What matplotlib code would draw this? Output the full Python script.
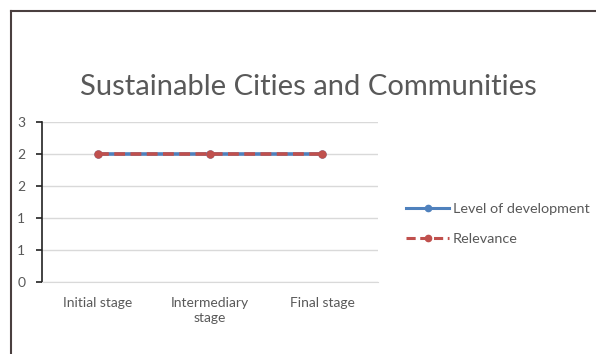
import matplotlib.pyplot as plt
from matplotlib.lines import Line2D
import math

plt.rcParams['font.family'] = ['Lato', 'DejaVu Sans']

# Chart data
stages = ["Initial stage", "Intermediary\nstage", "Final stage"]
levelOfDevelopment = [2, 2, 2]
relevance = [2, 2, 2]
yTicks = [0, 0.5, 1, 1.5, 2, 2.5]

W, H = 596, 354
fig = plt.figure(figsize=(W / 100, H / 100), dpi=100)

# Outer frame (left and top edges visible in the reference)
frameColor = '#4a3f3f'
fig.add_artist(Line2D([11 / W, 11 / W], [0, 1 - 11 / H], color=frameColor, lw=1.5))
fig.add_artist(Line2D([11 / W, 1], [1 - 11 / H, 1 - 11 / H], color=frameColor, lw=1.5))

ax = fig.add_axes([42 / W, 1 - 282 / H, 336 / W, 160 / H])
xPos = list(range(len(stages)))

ax.plot(xPos, levelOfDevelopment, color='#4f81bd', lw=2.6, marker='o', ms=5,
        label='Level of development', zorder=3)
ax.plot(xPos, relevance, color='#c0504d', lw=2.6, ls=(0, (3, 1.5)), marker='o', ms=5,
        label='Relevance', zorder=4)

ax.set_xlim(-0.5, len(stages) - 0.5)
ax.set_ylim(0, 2.5)
ax.set_yticks(yTicks)
# Excel-style integer format rounds halves up
ax.set_yticklabels([str(int(math.floor(v + 0.5))) for v in yTicks])
ax.set_xticks(xPos)
ax.set_xticklabels(stages, linespacing=1.25)
ax.grid(axis='y', color='#d9d9d9', lw=1)
ax.set_axisbelow(True)

for side in ['top', 'right']:
    ax.spines[side].set_visible(False)
ax.spines['bottom'].set_color('#d9d9d9')
ax.spines['left'].set_color('#222222')
ax.spines['left'].set_linewidth(1.2)
ax.tick_params(axis='y', length=4, width=1.2, color='#222222', labelsize=10,
               labelcolor='#595959', pad=8)
ax.tick_params(axis='x', length=0, labelsize=10, labelcolor='#595959', pad=11)

fig.text(308 / W, 1 - 87 / H, "Sustainable Cities and Communities", ha='center', va='center',
         fontsize=21, color='#595959')

leg = ax.legend(loc='center left', bbox_to_anchor=(406 / W, 1 - 224 / H),
                bbox_transform=fig.transFigure, frameon=False, fontsize=10.4,
                labelcolor='#595959', handlelength=3.0, handletextpad=0.25,
                labelspacing=1.25, borderpad=0, borderaxespad=0)
for h in leg.get_lines():
    h.set_linewidth(2.2)
    h.set_markersize(4.5)

fig.savefig('out.png', dpi=100)
